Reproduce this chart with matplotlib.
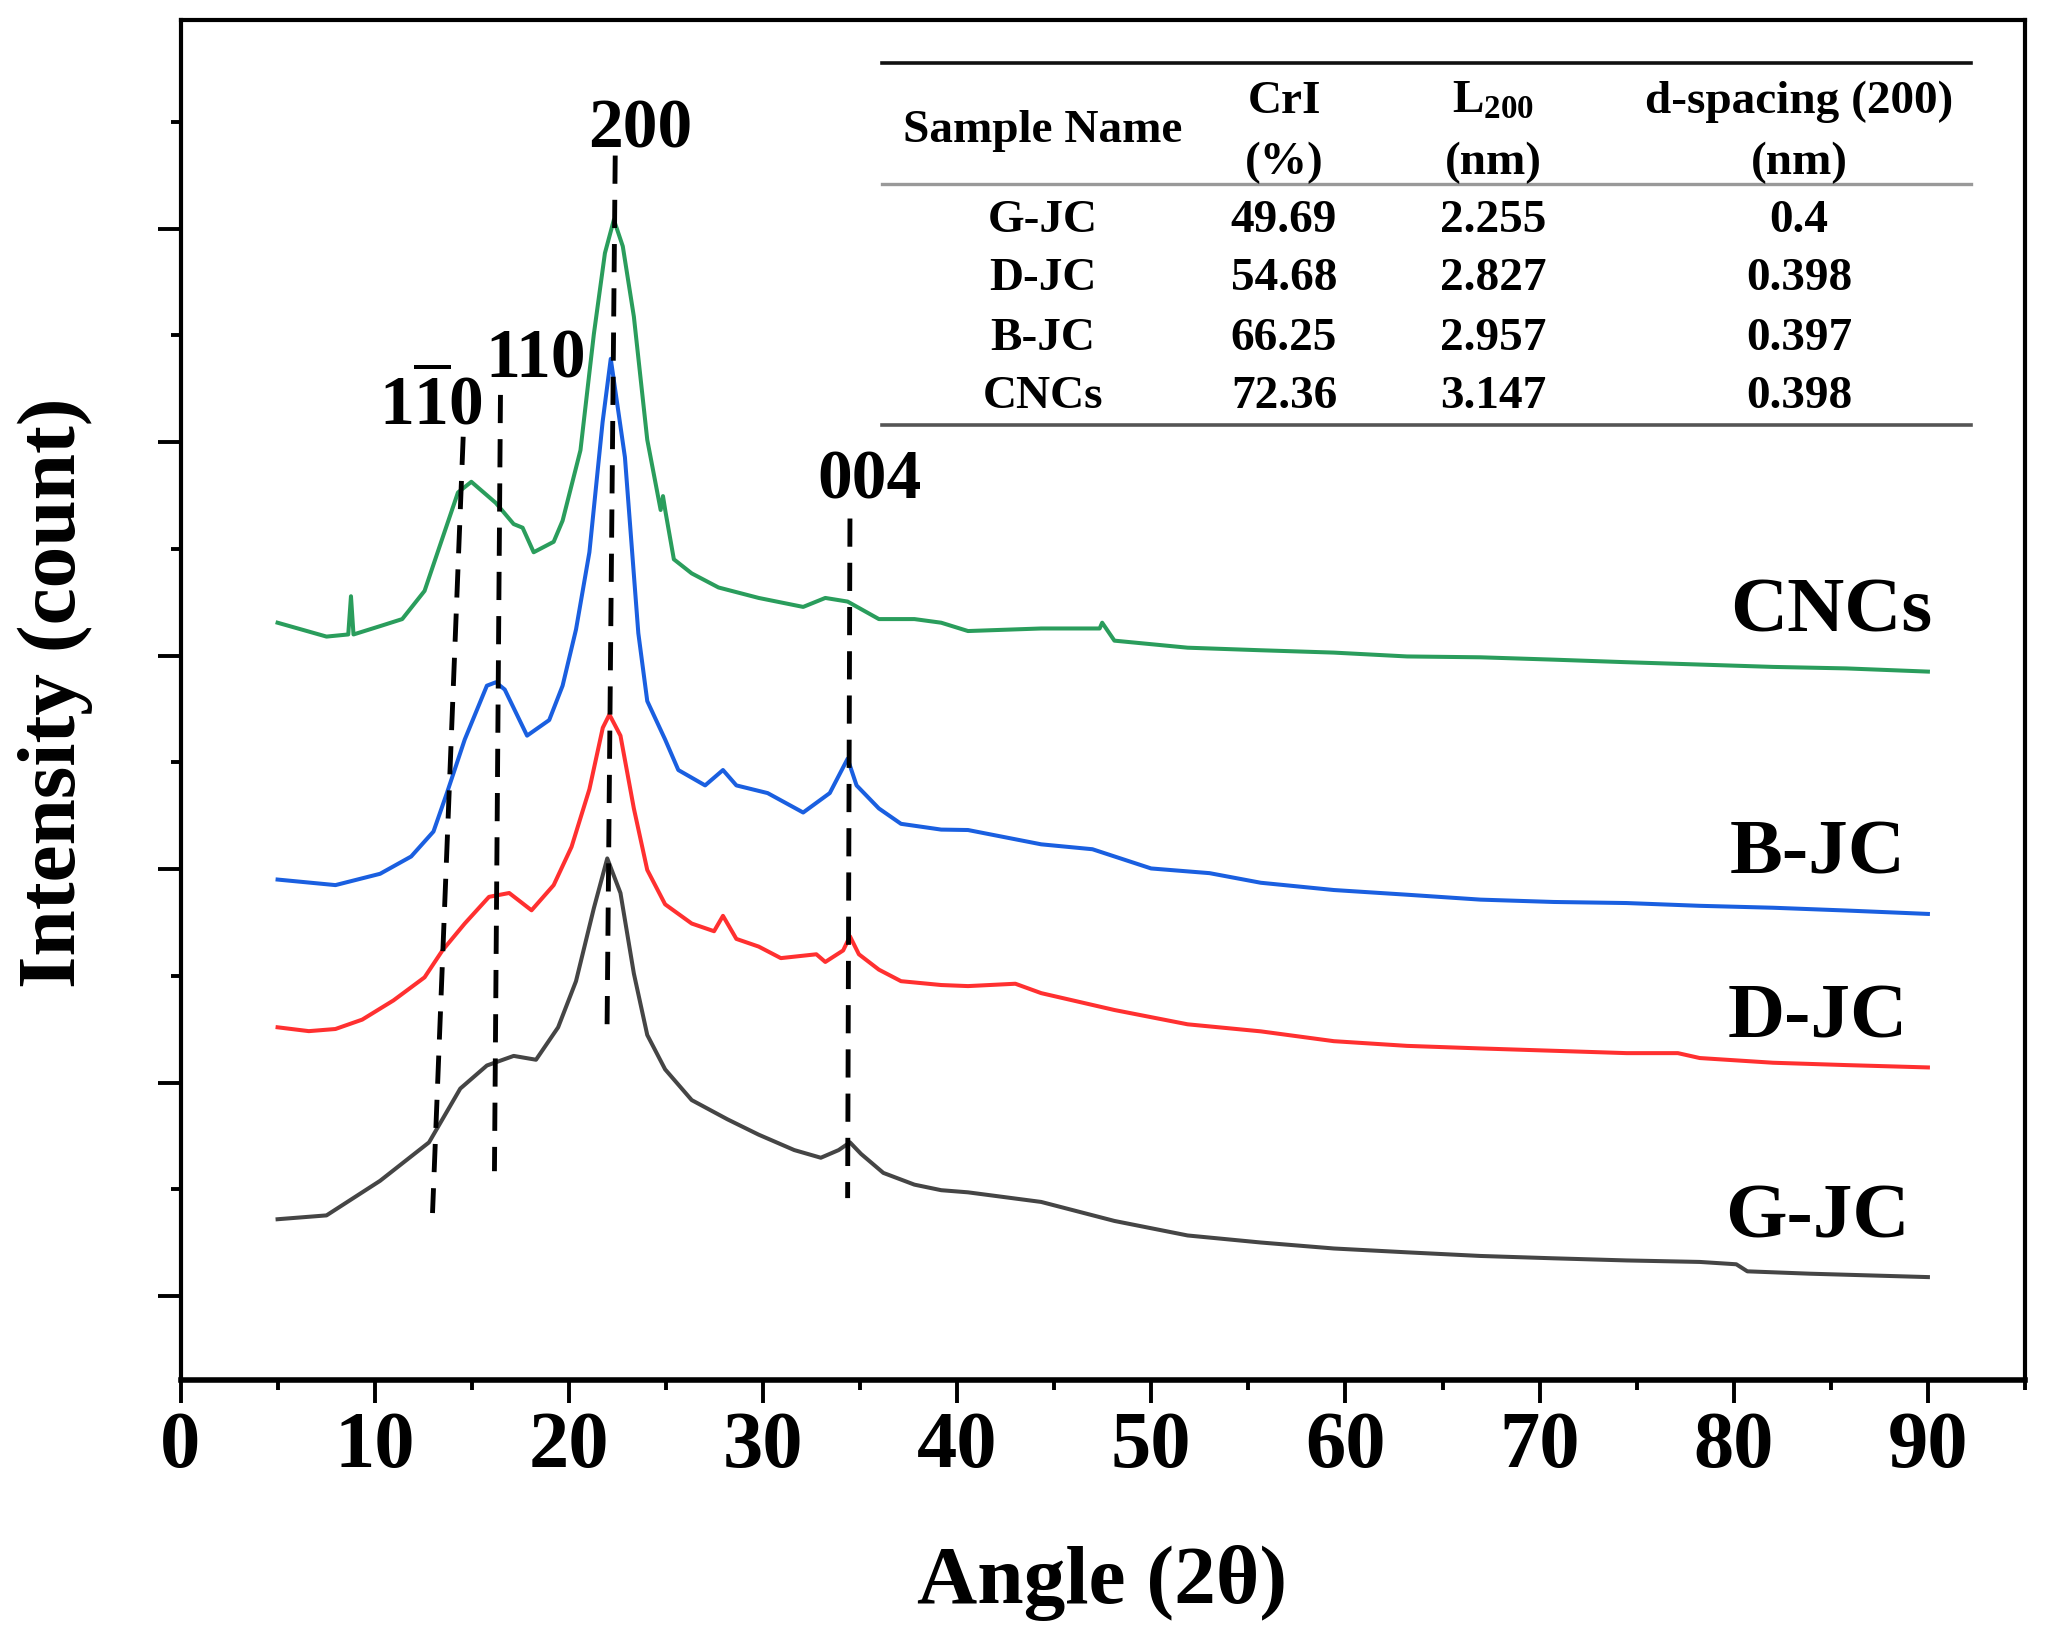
import matplotlib
matplotlib.use("Agg")
import matplotlib.pyplot as plt
from matplotlib.ticker import MultipleLocator
from matplotlib.lines import Line2D

plt.rcParams['font.family'] = ['Liberation Serif', 'DejaVu Serif']
plt.rcParams['font.weight'] = 'bold'
plt.rcParams['mathtext.fontset'] = 'custom'
plt.rcParams['mathtext.rm'] = 'Liberation Serif:bold'
plt.rcParams['mathtext.bf'] = 'Liberation Serif:bold'
plt.rcParams['mathtext.it'] = 'Liberation Serif:bold:italic'

# ---------------- data (angle 2theta, intensity in arbitrary counts, offset stacked) ----------------
g_jc_angle = [5.0, 7.52, 10.28, 12.80, 14.41, 15.78, 17.16, 18.31, 19.45, 20.37, 21.29, 21.98, 22.66, 23.35,
              24.04, 24.96, 26.33, 28.17, 29.78, 31.61, 32.98, 33.90, 34.48, 35.05, 36.2, 37.8, 39.18, 40.56,
              44.33, 48.1, 51.87, 55.64, 59.4, 63.17, 66.95, 70.72, 74.48, 78.25, 80.13, 80.70, 83.89, 90.0]
g_jc_int = [360, 378, 540, 720, 972, 1080, 1125, 1107, 1259, 1475, 1817, 2050, 1888, 1511,
            1223, 1062, 918, 828, 756, 684, 648, 684, 720, 666, 577, 522, 496, 486,
            441, 352, 284, 251, 223, 205, 188, 177, 167, 160, 149, 116, 105, 89]

d_jc_angle = [5.0, 6.61, 7.98, 9.36, 10.97, 12.57, 13.49, 14.64, 15.89, 16.93, 18.08, 19.22, 20.14, 21.06,
              21.75, 22.09, 22.66, 23.35, 24.04, 24.96, 26.33, 27.48, 27.94, 28.63, 29.78, 30.92, 32.75,
              33.21, 34.13, 34.48, 34.94, 35.97, 37.11, 39.18, 40.56, 43.0, 44.33, 48.1, 51.87, 55.64,
              59.4, 63.17, 66.95, 70.72, 74.48, 77.12, 78.25, 82.02, 85.79, 90.0]
d_jc_int = [1259, 1241, 1251, 1295, 1385, 1493, 1619, 1745, 1870, 1888, 1807, 1925, 2104, 2374,
            2662, 2724, 2625, 2284, 1996, 1835, 1745, 1709, 1781, 1673, 1637, 1583, 1601,
            1565, 1619, 1685, 1601, 1529, 1475, 1457, 1452, 1463, 1419, 1340, 1273, 1240,
            1194, 1172, 1160, 1149, 1138, 1138, 1115, 1093, 1082, 1071]

b_jc_angle = [5.0, 7.98, 10.28, 11.88, 13.03, 13.72, 14.64, 15.78, 16.24, 16.70, 17.85, 18.99, 19.68, 20.37,
              21.06, 21.74, 22.16, 22.89, 23.58, 24.04, 24.96, 25.64, 27.02, 27.94, 28.63, 30.24, 32.07,
              33.44, 34.36, 34.82, 35.97, 37.11, 39.18, 40.56, 44.33, 46.97, 49.99, 53.0, 55.64, 59.4,
              63.17, 66.95, 70.72, 74.48, 78.25, 82.02, 85.79, 90.0]
b_jc_int = [1951, 1925, 1978, 2059, 2176, 2356, 2607, 2859, 2875, 2841, 2625, 2698, 2859, 3122,
            3484, 4094, 4390, 3929, 3105, 2787, 2607, 2464, 2392, 2464, 2392, 2356, 2265,
            2356, 2517, 2392, 2284, 2212, 2185, 2183, 2116, 2093, 2003, 1981, 1936, 1902,
            1880, 1857, 1846, 1841, 1828, 1819, 1806, 1790]

cncs_angle = [5.0, 7.52, 8.64, 8.78, 8.91, 10.28, 11.42, 12.57, 13.49, 14.29, 14.98, 16.24, 17.16, 17.62,
              18.19, 19.22, 19.68, 20.6, 21.29, 21.86, 22.32, 22.78, 23.35, 24.04, 24.73, 24.85, 24.98,
              25.41, 26.33, 27.71, 29.78, 32.07, 33.21, 34.36, 35.97, 37.8, 39.18, 40.56, 44.33, 47.34,
              47.47, 48.1, 51.87, 55.64, 59.4, 63.17, 66.95, 70.72, 74.48, 78.25, 82.02, 85.79, 90.0]
cncs_int = [3154, 3089, 3099, 3278, 3099, 3138, 3171, 3303, 3550, 3764, 3814, 3715, 3616, 3599,
            3484, 3533, 3632, 3962, 4506, 4885, 5041, 4917, 4588, 4011, 3682, 3747, 3673,
            3451, 3385, 3319, 3270, 3228, 3270, 3253, 3171, 3171, 3154, 3115, 3127, 3127,
            3154, 3070, 3037, 3025, 3014, 2996, 2992, 2981, 2969, 2958, 2947, 2940, 2925]

series_names = ['G-JC', 'D-JC', 'B-JC', 'CNCs']
series_colors = ['#454545', '#ff3030', '#1a5fe0', '#2a9d5c']

# curve labels (angle, intensity)
label_x = [84.3, 84.3, 84.3, 85.0]
label_y = [360, 1300, 2065, 3200]

# crystal plane guide lines (top point, bottom point)
plane_labels = [r'$1\overline{1}0$', '110', '200', '004']
guide_top_x = [14.56, 16.48, 22.39, 34.48]
guide_top_y = [4025, 4221, 5342, 3642]
guide_bot_x = [12.98, 16.17, 21.97, 34.36]
guide_bot_y = [389, 585, 1259, 459]
plane_text_x = [12.9, 18.3, 23.7, 35.5]
plane_text_y = [4170, 4380, 5460, 3815]

# inset table
table_header = ['Sample Name', 'CrI', 'L$_{200}$', 'd-spacing (200)']
table_units = ['', '(%)', '(nm)', '(nm)']
table_samples = ['G-JC', 'D-JC', 'B-JC', 'CNCs']
table_cri = [49.69, 54.68, 66.25, 72.36]
table_l200 = [2.255, 2.827, 2.957, 3.147]
table_dspacing = [0.4, 0.398, 0.397, 0.398]

# ---------------- figure ----------------
W, H = 2050, 1644
fig = plt.figure(figsize=(W / 100, H / 100), dpi=100)
ax = fig.add_axes([180.5 / W, 1 - 1380 / H, (2025 - 180.5) / W, 1360 / H])

all_x = [g_jc_angle, d_jc_angle, b_jc_angle, cncs_angle]
all_y = [g_jc_int, d_jc_int, b_jc_int, cncs_int]
for xs, ys, c in zip(all_x, all_y, series_colors):
    ax.plot(xs, ys, color=c, lw=2.9, solid_joinstyle='round')

for name, x, y in zip(series_names, label_x, label_y):
    ax.text(x, y, name, fontsize=57, fontweight='bold', ha='center', va='center')

for tx, ty, bx, by in zip(guide_top_x, guide_top_y, guide_bot_x, guide_bot_y):
    ax.plot([tx, bx], [ty, by], color='black', lw=3.5, dashes=(5.8, 3.3))

for lab, x, y in zip(plane_labels, plane_text_x, plane_text_y):
    ax.text(x, y, lab, fontsize=50, fontweight='bold', ha='center', va='center')

ax.set_xlim(0, 95)
ax.set_ylim(-393, 5977)
ax.xaxis.set_major_locator(MultipleLocator(10))
ax.xaxis.set_minor_locator(MultipleLocator(5))
ax.yaxis.set_major_locator(MultipleLocator(1000))
ax.yaxis.set_minor_locator(MultipleLocator(500))
ax.tick_params(which='major', direction='out', length=16.5, width=2.8, labelsize=58, pad=6)
ax.tick_params(which='minor', direction='out', length=7.5, width=2.8)
ax.tick_params(axis='y', which='both', labelleft=False)
for lab in ax.get_xticklabels():
    lab.set_fontweight('bold')
for sp in ax.spines.values():
    sp.set_linewidth(3.0)
ax.spines['bottom'].set_linewidth(4.0)

ax.set_xlabel('Angle (2θ)', fontsize=60, fontweight='bold', va='center')
ax.xaxis.set_label_coords(0.4996, -0.149)
ax.set_ylabel('Intensity (count)', fontsize=60, fontweight='bold', va='center', ha='center')
ax.yaxis.set_label_coords(-0.068, 0.505)

# ---------------- table (figure pixel coordinates) ----------------
def fx(px):
    return px / W

def fy(py):
    return 1 - py / H

tx0, tx1 = 882, 1971
fig.add_artist(Line2D([fx(tx0), fx(tx1)], [fy(63), fy(63)], color='#111111', lw=2.6,
                      transform=fig.transFigure))
fig.add_artist(Line2D([fx(tx0), fx(tx1)], [fy(184), fy(184)], color='#999999', lw=2.4,
                      transform=fig.transFigure))
fig.add_artist(Line2D([fx(tx0), fx(tx1)], [fy(425), fy(425)], color='#555555', lw=2.6,
                      transform=fig.transFigure))

col_x = [1043, 1284, 1493, 1799]
fs_t = 34
fig.text(fx(col_x[0]), fy(131), table_header[0], fontsize=fs_t, fontweight='bold', ha='center', va='center')
for i in range(1, 4):
    fig.text(fx(col_x[i]), fy(102), table_header[i], fontsize=fs_t, fontweight='bold', ha='center', va='center')
    fig.text(fx(col_x[i]), fy(163), table_units[i], fontsize=fs_t, fontweight='bold', ha='center', va='center')

row_y = [221, 279, 339, 397]
for r, ry in enumerate(row_y):
    vals = [table_samples[r], str(table_cri[r]), str(table_l200[r]), str(table_dspacing[r])]
    for cx, v in zip(col_x, vals):
        fig.text(fx(cx), fy(ry), v, fontsize=fs_t, fontweight='bold', ha='center', va='center')

fig.savefig('out.png', dpi=100)
